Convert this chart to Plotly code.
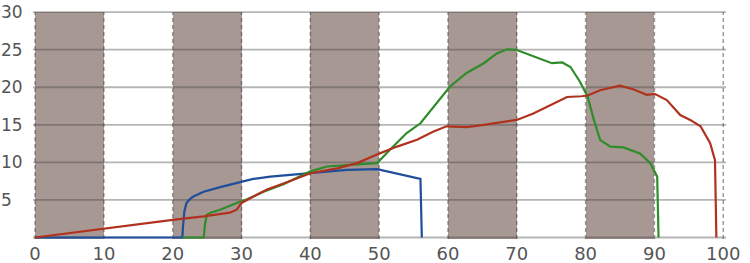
import plotly.graph_objects as go

# ---------------- data ----------------
x_ticks = [0, 10, 20, 30, 40, 50, 60, 70, 80, 90, 100]
y_ticks = [5, 10, 15, 20, 25, 30]
y_tick_labels = ["5", "10", "15", "20", "25", "30"]
band_starts = [0, 20, 40, 60, 80]
band_width = 10

blue_x = [0, 21.4, 21.5, 21.7, 22.0, 22.5, 23.0, 24.5, 26.9, 29.3, 31.7, 34.2, 36.6,
          40, 45.3, 49.7, 51.6, 54, 56.0, 56.2]
blue_y = [0, 0, 1.5, 3.5, 4.6, 5.1, 5.45, 6.1, 6.7, 7.2, 7.8, 8.1, 8.3,
          8.6, 9.0, 9.1, 8.7, 8.2, 7.8, 0]

green_x = [21.4, 24.5, 24.7, 24.95, 25.5, 26.9, 29.3, 30.8, 33.2, 36.1, 40, 42.4, 45.8,
           49.7, 51.6, 54, 56, 58.4, 60.3, 62.7, 65.2, 67.1, 68.6, 70, 72.4, 75.1,
           76.6, 77.8, 79.2, 80.3, 81.2, 82.1, 83.6, 85.5, 87.9, 89.4, 90.4, 90.6]
green_y = [0, 0, 1.8, 3.0, 3.3, 3.7, 4.6, 5.1, 6.1, 7.1, 8.8, 9.45, 9.67,
           9.9, 11.7, 13.9, 15.2, 17.9, 20.1, 21.9, 23.2, 24.5, 25.05, 24.96, 24.1, 23.2,
           23.3, 22.7, 20.7, 18.75, 15.65, 13.0, 12.1, 12.0, 11.2, 9.9, 8.1, 0]

red_x = [0, 10, 20, 24.5, 28.3, 29.3, 30.0, 30.8, 33.7, 36.1, 40, 43.9, 46.8, 50.1,
         52.6, 55.5, 57.9, 59.8, 62.7, 65.2, 67.6, 70, 72.4, 74.9, 77.3, 79.4, 80.3,
         82.1, 85, 87, 88.9, 90.1, 91.8, 93.75, 95.2, 96.7, 98.1, 98.8, 99.0]
red_y = [0, 1.2, 2.35, 2.8, 3.3, 3.7, 4.6, 5.0, 6.4, 7.2, 8.56, 9.2, 9.9, 11.2,
         12.1, 13.0, 14.1, 14.8, 14.7, 15.0, 15.3, 15.65, 16.5, 17.6, 18.7, 18.8, 18.9,
         19.6, 20.2, 19.7, 19.0, 19.1, 18.3, 16.3, 15.65, 14.8, 12.55, 10.3, 0]

# ---------------- figure ----------------
FONT = "DejaVu Sans"
TXT = "#555555"
Y_RANGE = [-0.2, 30.15]
X_RANGE = [-0.3, 100.4]

fig = go.Figure()

# shaded bands
fig.add_trace(go.Bar(
    x=[s + band_width / 2 for s in band_starts],
    y=[30 - Y_RANGE[0]] * len(band_starts), base=Y_RANGE[0],
    width=band_width, marker=dict(color="#a89893", line_width=0),
    hoverinfo="skip", showlegend=False))

# horizontal grid lines (translucent, so they look darker over the bands)
hx, hy = [], []
for v in [0] + y_ticks:
    hx += [X_RANGE[0], X_RANGE[1], None]
    hy += [v, v, None]
fig.add_trace(go.Scatter(x=hx, y=hy, mode="lines", hoverinfo="skip",
                         line=dict(color="rgba(60,60,60,0.38)", width=1.8),
                         showlegend=False))

# vertical dashed grid lines
vx, vy = [], []
for t in x_ticks:
    vx += [t, t, None]
    vy += [Y_RANGE[0], 30, None]
fig.add_trace(go.Scatter(x=vx, y=vy, mode="lines", hoverinfo="skip",
                         line=dict(color="rgba(60,60,60,0.5)", width=1.5,
                                   dash="4px,3px"),
                         showlegend=False))

fig.add_trace(go.Scatter(x=blue_x, y=blue_y, mode="lines",
                         line=dict(color="#1f4e9c", width=2.2), showlegend=False))
fig.add_trace(go.Scatter(x=green_x, y=green_y, mode="lines",
                         line=dict(color="#2f8c2a", width=2.2), showlegend=False))
fig.add_trace(go.Scatter(x=red_x, y=red_y, mode="lines",
                         line=dict(color="#b0321e", width=2.2), showlegend=False))

for v, t in zip(y_ticks, y_tick_labels):
    fig.add_annotation(x=0, xref="paper", xshift=-34, xanchor="left",
                       y=v, yref="y", text=t, showarrow=False,
                       font=dict(family=FONT, size=17, color=TXT))

fig.update_layout(
    width=750, height=263,
    margin=dict(l=33, r=24, t=11, b=24),
    paper_bgcolor="white", plot_bgcolor="white", bargap=0,
    xaxis=dict(range=X_RANGE, tickvals=x_ticks, showgrid=False, automargin=False,
               zeroline=False, showline=False, ticks="", ticklabelstandoff=2,
               tickfont=dict(family=FONT, size=18, color=TXT)),
    yaxis=dict(range=Y_RANGE, tickvals=[0] + y_ticks, showticklabels=False,
               automargin=False, showgrid=False,
               zeroline=False, showline=False, ticks=""),
)

fig.write_html("out.html")
